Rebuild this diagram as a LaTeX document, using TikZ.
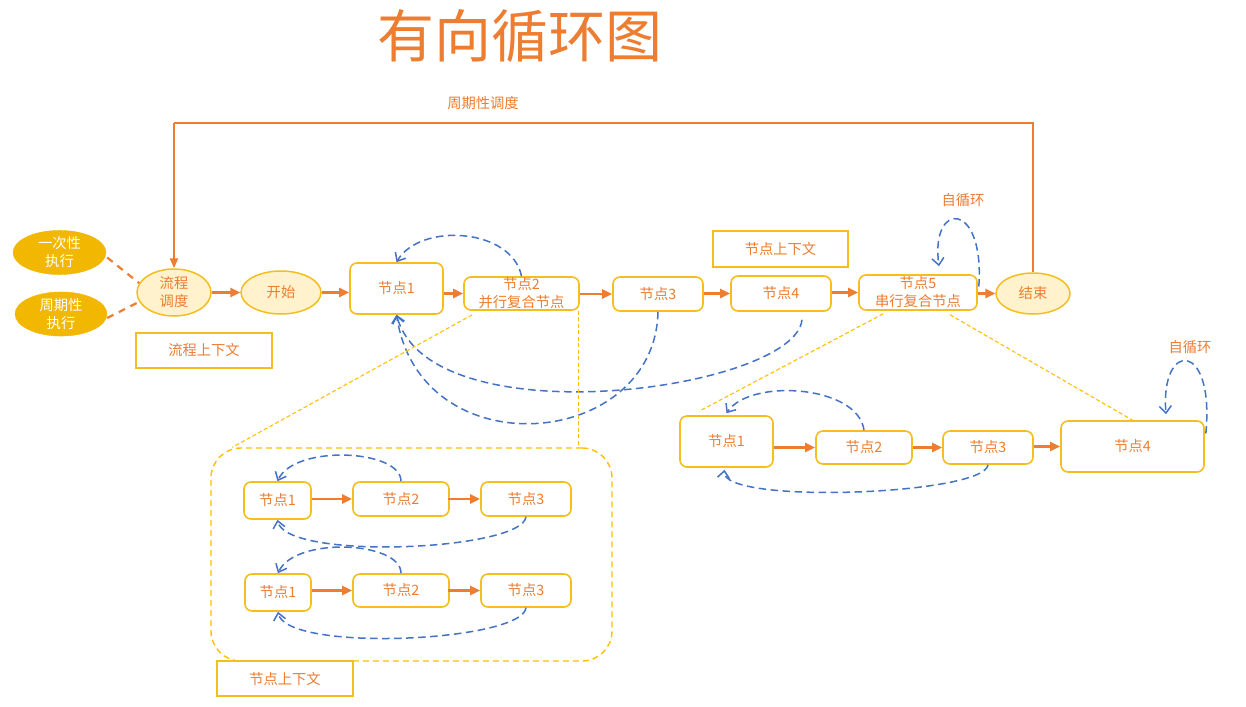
\documentclass[tikz,border=0pt]{standalone}
\usepackage{fontspec}
\setmainfont{Noto Sans CJK SC}
\usetikzlibrary{arrows.meta,calc,shapes.geometric}
\definecolor{tor}{HTML}{ED7D31}
\definecolor{ybd}{HTML}{F5BE1E}
\definecolor{ydl}{HTML}{FFC000}
\definecolor{yfill}{HTML}{FFF2CC}
\definecolor{goldy}{HTML}{F2B700}
\definecolor{bl}{HTML}{4472C4}
\begin{document}
\begin{tikzpicture}[x=1pt,y=-1pt,
  every node/.style={font=\fontsize{14.3}{18}\selectfont, text=tor, inner sep=0pt, align=center},
  nbox/.style={draw=ybd, line width=1.6pt, rounded corners=7pt, fill=white},
  ctx/.style={draw=ybd, line width=1.2pt, fill=white},
  gell/.style={ellipse, fill=goldy, draw=goldy, text=white},
  lell/.style={ellipse, fill=yfill, draw=ybd, line width=1.5pt},
  cont/.style={draw=ydl, line width=1.4pt, dash pattern=on 6pt off 4pt, rounded corners=30pt},
  oarr/.style={draw=tor, line width=2.4pt, -{Triangle[length=10pt,width=9pt]}},
  fb/.style={draw=tor, line width=2pt},
  odash/.style={draw=tor, line width=2.2pt, dash pattern=on 7pt off 6pt},
  bdash/.style={draw=bl, line width=1.5pt, dash pattern=on 7.5pt off 4.5pt, -{Straight Barb[length=7pt,width=12pt]}},
  ythin/.style={draw=ydl, line width=1.1pt, dash pattern=on 4pt off 2.5pt}
]
\fill[white] (0,0) rectangle (1246,706);
\useasboundingbox (0,0) rectangle (1246,706);

% title and labels
\node[font=\fontsize{57}{60}\selectfont] (TITLE) at (520,36) {有向循环图};
\node (PLAB) at (483,103) {周期性调度};
\node (LOOP1) at (963,200) {自循环};
\node (LOOP2) at (1190,347) {自循环};

% container (behind)
\node[cont, minimum width=401pt, minimum height=213pt] (CONT) at (411.5,554.5) {};

% main row
\node[gell, minimum width=93pt, minimum height=41pt] (ONCE) at (59.5,252.5) {一次性\\执行};
\node[gell, minimum width=92pt, minimum height=38pt] (PER) at (61,314) {周期性\\执行};
\node[lell, minimum width=74pt, minimum height=47pt] (FLOW) at (174,292.5) {流程\\调度};
\node[lell, minimum width=80pt, minimum height=43pt] (START) at (281,292.5) {开始};
\node[ctx, minimum width=136pt, minimum height=35pt] (FCTX) at (204,350.5) {流程上下文};
\node[nbox, minimum width=93pt, minimum height=51pt] (T1) at (396.5,288.5) {节点1};
\node[nbox, minimum width=115pt, minimum height=33pt] (T2) at (521.5,293.5) {节点2\\并行复合节点};
\node[nbox, minimum width=90pt, minimum height=34pt] (T3) at (658,294) {节点3};
\node[nbox, minimum width=100pt, minimum height=35pt] (T4) at (781,293.5) {节点4};
\node[ctx, minimum width=135pt, minimum height=36pt] (NCTX1) at (780.5,249) {节点上下文};
\node[nbox, minimum width=118pt, minimum height=35pt] (T5) at (918,292.5) {节点5\\串行复合节点};
\node[lell, minimum width=74pt, minimum height=41pt] (END) at (1033,293.5) {结束};

% parallel sub
\node[nbox, minimum width=67pt, minimum height=37pt] (A1) at (277.5,500.5) {节点1};
\node[nbox, minimum width=96pt, minimum height=34pt] (A2) at (401,499) {节点2};
\node[nbox, minimum width=90pt, minimum height=34pt] (A3) at (526,499) {节点3};
\node[nbox, minimum width=66pt, minimum height=37pt] (B1) at (278,592.5) {节点1};
\node[nbox, minimum width=96pt, minimum height=33pt] (B2) at (401,590.5) {节点2};
\node[nbox, minimum width=90pt, minimum height=33pt] (B3) at (526,590.5) {节点3};
\node[ctx, minimum width=136pt, minimum height=35pt] (NCTX2) at (285,678.5) {节点上下文};

% serial sub
\node[nbox, minimum width=93pt, minimum height=51pt] (C1) at (726.5,441.5) {节点1};
\node[nbox, minimum width=96pt, minimum height=33pt] (C2) at (864,447.5) {节点2};
\node[nbox, minimum width=90pt, minimum height=33pt] (C3) at (988,447.5) {节点3};
\node[nbox, minimum width=143pt, minimum height=51pt] (C4) at (1132.5,446.5) {节点4};

% feedback line
\coordinate (fbtop) at (0,123);
\draw[fb] (END.north) |- (FLOW.north |- fbtop);
\draw[fb,-{Triangle[length=10pt,width=8pt]}] (FLOW.north |- fbtop) -- (FLOW.north);

% dashed triggers
\draw[odash] ($(ONCE.east)+(1,5)$) -- (FLOW.165);
\draw[odash] ($(PER.east)+(0,4)$) -- (FLOW.195);

% main arrows
\draw[oarr] (FLOW.east |- START) -- (START.west);
\draw[oarr] (START.east) -- (START.east -| T1.west);
\draw[oarr] (T1.east |- T2) -- (T2.west);
\draw[oarr] (T2.east |- T3) -- (T3.west);
\draw[oarr] (T3.east |- T4) -- (T4.west);
\draw[oarr] (T4.east |- T5) -- (T5.west);
\draw[oarr] (T5.east |- END) -- (END.west);

% blue loops top
\draw[bdash] (T2.north) .. controls (512,228) and (420,222) .. (T1.north);
\draw[bdash] (T3.south) .. controls (655,450) and (420,470) .. (T1.south);
\draw[bdash] ($(T4.south)+(21,8)$) .. controls (795,390) and (430,440) .. (T1.south);
\draw[bdash] ($(T5.east)+(1,-6)$) .. controls (985,200) and (930,200) .. ($(T5.north)+(21,-8)$);

% yellow connection lines
\draw[ythin] ($(T2.south west)+(9,4)$) -- ($(CONT.north west)+(22,0)$);
\coordinate (v1) at ($(T2.south east)+(-1,0)$);
\draw[ythin] (v1) -- (v1 |- CONT.north);
\draw[ythin] ($(T5.south west)+(25,3)$) -- ($(C1.north west)+(20,-4)$);
\draw[ythin] ($(T5.south)+(32,4)$) -- (C4.north);

% parallel sub arrows
\draw[oarr] (A1.east |- A2) -- (A2.west);
\draw[oarr] ($(A2.east)+(-2,0)$) -- (A3.west);
\draw[oarr] (B1.east |- B2) -- (B2.west);
\draw[oarr] ($(B2.east)+(-2,0)$) -- (B3.west);
\draw[bdash] (A2.north) .. controls +(0,-32) and +(17,-37) .. (A1.north);
\draw[bdash] (A3.south) .. controls +(-4,34) and +(8,41) .. (A1.south);
\draw[bdash] (B2.north) .. controls +(0,-32) and +(17,-37) .. (B1.north);
\draw[bdash] (B3.south) .. controls +(-4,34) and +(8,41) .. (B1.south);

% serial sub arrows
\draw[oarr] (C1.east |- C2) -- (C2.west);
\draw[oarr] (C2.east) -- (C3.west);
\draw[oarr] (C3.east |- C4) -- (C4.west);
\draw[bdash] (C2.north) .. controls (858,385) and (750,378) .. ($(C1.north)+(0,-2)$);
\draw[bdash] (C3.south) .. controls (985,495) and (720,505) .. ($(C1.south)+(-2,2)$);
\draw[bdash] ($(C4.east)+(1,-13)$) .. controls (1215,340) and (1160,340) .. ($(C4.north)+(33.5,-6)$);
\end{tikzpicture}
\end{document}
